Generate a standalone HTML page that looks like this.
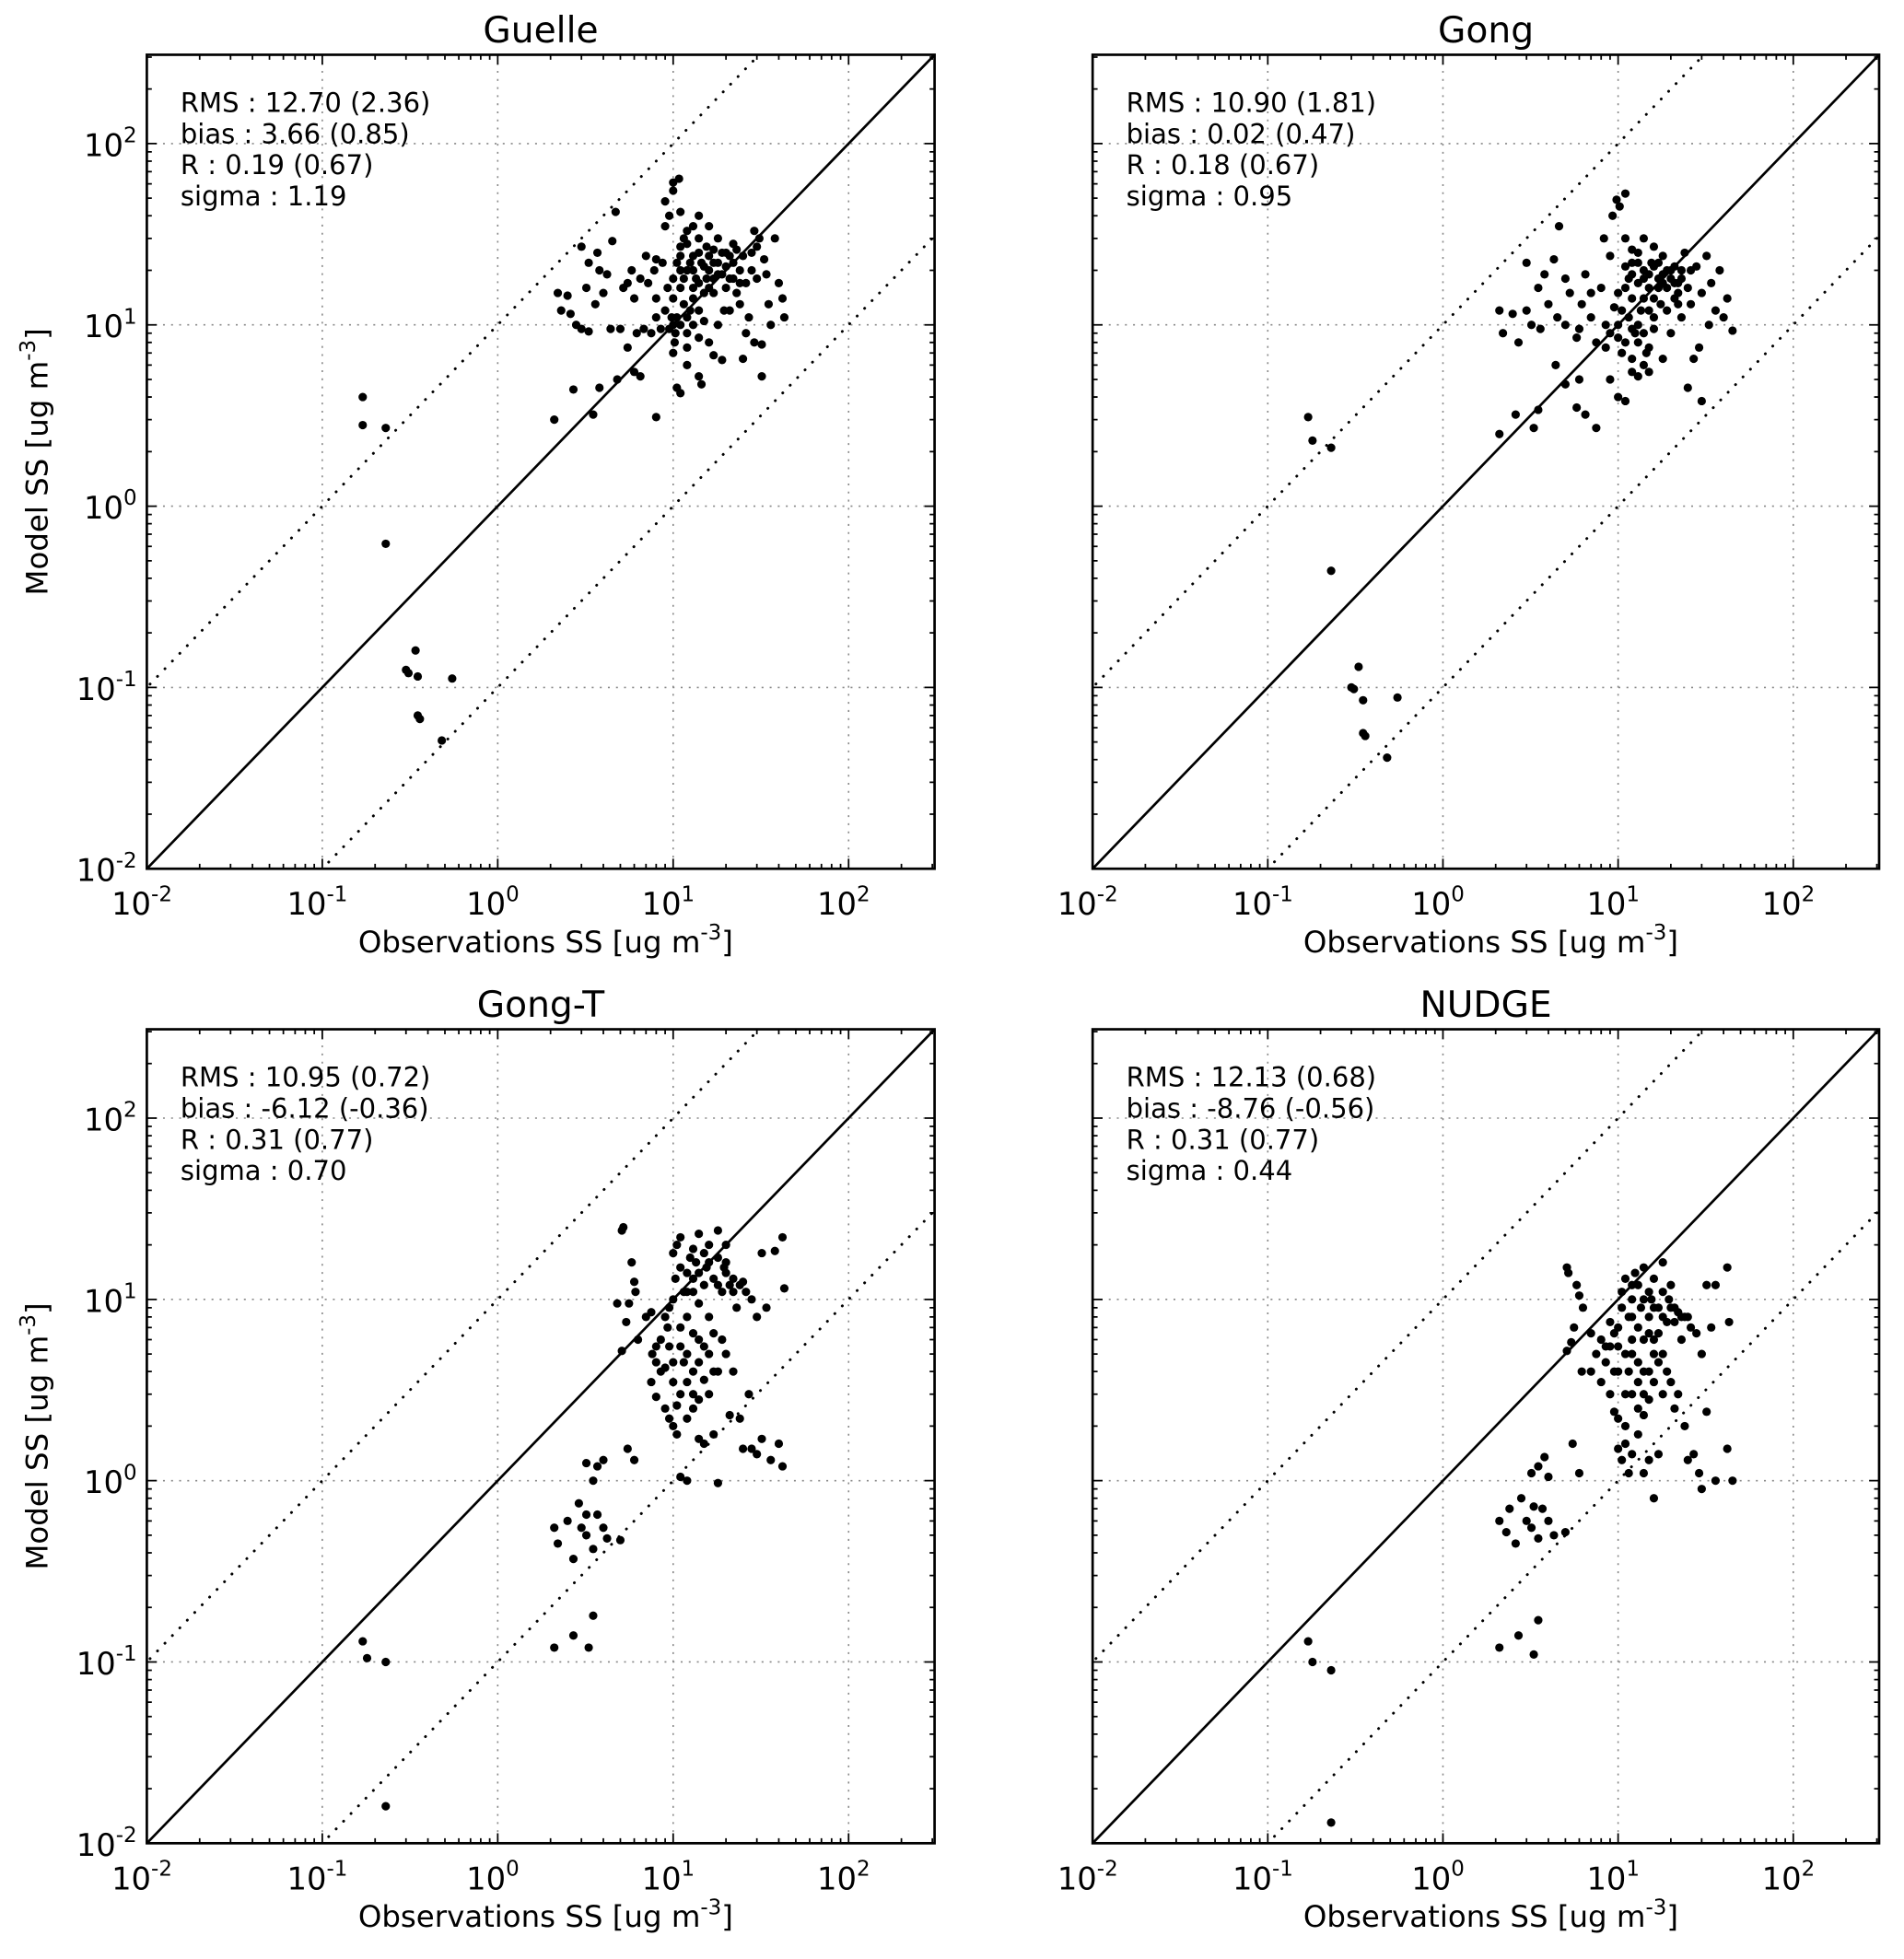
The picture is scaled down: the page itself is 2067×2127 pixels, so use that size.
<!DOCTYPE html>
<html><head><meta charset="utf-8"><style>
html,body{margin:0;padding:0;background:#fff;overflow:hidden;width:2067px;height:2127px;}
svg{display:block;}
text{font-family:"DejaVu Sans","Liberation Sans",sans-serif;fill:#000;}
</style></head><body>
<svg id="fig" width="2067" height="2127" viewBox="0 0 1530 1574" preserveAspectRatio="none" xmlns="http://www.w3.org/2000/svg"></svg>
<script>
// ---- data (observations, model) per panel ----
const titles = ["Guelle","Gong","Gong-T","NUDGE"];
const statsGuelle = ["RMS : 12.70 (2.36)","bias : 3.66 (0.85)","R : 0.19 (0.67)","sigma : 1.19"];
const statsGong = ["RMS : 10.90 (1.81)","bias : 0.02 (0.47)","R : 0.18 (0.67)","sigma : 0.95"];
const statsGongT = ["RMS : 10.95 (0.72)","bias : -6.12 (-0.36)","R : 0.31 (0.77)","sigma : 0.70"];
const statsNudge = ["RMS : 12.13 (0.68)","bias : -8.76 (-0.56)","R : 0.31 (0.77)","sigma : 0.44"];
const tickExps = [-2,-1,0,1,2];

const ptsGuelle = [[0.17,4.0],[0.17,2.8],[0.23,2.7],[0.23,0.62],[0.3,0.125],[0.31,0.12],[0.34,0.16],[0.35,0.115],[0.35,0.07],[0.36,0.067],[0.48,0.051],[0.55,0.112],
[2.1,3.0],[2.7,4.4],[3.5,3.2],[3.8,4.5],[4.8,5.0],[5.5,7.5],[6,5.5],[6.5,5.2],[8,3.1],[10.5,4.5],[11,4.2],[12,6],[14,5.2],[14.5,4.7],[19,6.4],[25,6.5],[32,5.2],[10,7],[12,7.5],[17,6.8],
[2.2,15],[2.3,12],[2.5,14.5],[2.8,10],[3,9.5],[3,27],[3.2,16],[3.3,22],[3.7,25],[3.8,20],[4,15],[4.5,29],[4.7,42],[5,9.5],[5.5,17],[5.8,20],[6,14],[6.2,9],[6.5,18],[7,24],[7.2,17],[7.5,9],[8,11],[8,23],[8.5,9.5],[9,35],[9,48],[10,55],[10,61],[10.8,64],[11,42],[11.5,30],[9.5,40],[8.7,22],[9,12],[9.5,9.5],[10,18],[10,14],[10,10],[10.5,11],[11,24],[11,16],[11.5,13],[12,28],[12,20],[12.5,12],[13,35],[13,24],[13.5,18],[14,40],[14,30],[14.5,22],[15,15],[15,10.5],[15.5,27],[16,20],[16,35],[17,26],[17,15],[18,22],[18,30],[19,19],[19.5,12],[20,25],[21,18],[22,28],[22,22],[23,15],[24,20],[25,24],[26,9],[27,11],[28,20],[29,33],[30,18],[31,30],[33,23],[34,19],[35,13],[38,30],[40,17],[42,14],[43,11],[36,10],[32,7.8],[29,8],[14,8.5],[12,9],[16,8],[18,10],[21,12],[13,16],[11,20],[17,18],[20,16],[24,13],[26,17],[28,25],[30,27],[12.5,22],[14,25],[15.5,18],[6.8,9.5],[5.2,16],[4.2,19],[3.6,13],[2.6,11.5],[3.3,9.2],[4.4,9.5],[7.8,20],[9.3,16],[8,14],[10.2,8],
[11,27],[12,33],[13,20],[14,17],[15,21],[16,24],[17,22],[18,19],[19,25],[20,21],[21,24],[22,18],[23,26],[24,17],[13,14],[14,12],[16,16],[11.5,18],[10.5,22],[9.8,11],[10.3,9],[11,10],[12,11],[13,10]];

const ptsGong = [[0.17,3.1],[0.18,2.3],[0.23,2.1],[0.23,0.44],[0.3,0.1],[0.31,0.098],[0.33,0.13],[0.35,0.085],[0.35,0.056],[0.36,0.054],[0.48,0.041],[0.55,0.088],
[2.1,2.5],[2.6,3.2],[3.3,2.7],[3.5,3.4],[4.4,6],[5,4.7],[5.8,3.5],[6,5],[6.5,3.2],[7.5,2.7],[9,5],[10,4],[11,3.8],[12,5.5],[13,5.2],[14,6],[15,5.5],[18,6.5],[25,4.5],[30,3.8],
[2.1,12],[2.2,9],[2.5,11.5],[2.7,8],[3,22],[3,12],[3.2,10],[3.5,16],[3.8,19],[4,13],[4.3,23],[4.6,35],[5,10],[5.3,15],[5.8,8.5],[6.2,13],[6.5,19],[7,11],[7.5,8],[8,16],[8.3,30],[8.5,7.5],[9,24],[9.3,40],[9.8,49],[10.2,45],[11,53],[11,30],[10,15],[10,10],[10.5,12],[11,8],[11.5,18],[12,22],[12,14],[12.5,9],[13,25],[13,17],[13.5,12],[14,30],[14,20],[14.5,7],[15,16],[15.5,22],[16,11],[16,27],[17,18],[17.5,13],[18,24],[19,16],[20,9],[20,20],[21,14],[22,17],[23,11],[24,25],[25,16],[26,13],[28,21],[29,7.5],[30,15],[32,24],[34,17],[36,12],[38,20],[40,11],[42,14],[45,9.3],[33,10],[27,6.5],[15,7.5],[12,6.5],[8.5,10],[7,15],[9.5,12.5],[11,16],[13,10],[16,14],[18,19],[21,21],[23,18],[26,20],[6,9.5],[4.5,11],[3.6,9.5],[5,18],[14,14],[17,22],[19,12],[22,13],[12,19],[15,12],[9,9],
[11,21],[12,26],[13,22],[14,18],[15,19],[16,21],[17,16],[18,17],[19,20],[20,18],[21,17],[22,15],[23,20],[14,9],[13,8],[16,9.5],[10.5,7],[11.5,11],[12,9.5],[10,8.5]];

const ptsGongT = [[0.17,0.13],[0.18,0.105],[0.23,0.1],[0.23,0.016],
[2.1,0.12],[2.7,0.14],[3.3,0.12],[3.5,0.18],[2.1,0.55],[2.2,0.45],[2.5,0.6],[2.7,0.37],[2.9,0.75],[3,0.55],[3.2,0.5],[3.2,0.65],[3.5,0.42],[3.7,0.65],[4,0.55],[4.2,0.48],[3.5,1.0],[3.7,1.2],[4,1.3],[3.2,1.25],[5,0.47],[6,1.3],[5.5,1.5],
[5.1,24],[5.2,25],[5.8,16],[6,12.5],[6.1,11],[5.6,9.5],[5.1,5.2],[5.4,7.5],[4.8,9.5],[6.3,6],[7,8],[7.5,8.5],[7.6,5],[8,4.5],[8.5,6],[9,8],[9.3,7],[8.5,4],[7.5,3.5],[8,2.9],[9,2.5],[9.5,2.2],[10,2],[10.5,1.8],[11,1.05],[12,1],[11,3],[11.5,4.5],[12,5],[13,3],[13,4],[14,2.8],[14,1.7],[15,3.6],[15,1.6],[17,1.8],[18,0.97],[21,2.3],[24,2.2],[25,1.5],[27,3],[28,1.5],[30,1.4],[32,1.7],[36,1.3],[40,1.6],[42,1.2],
[10,10],[10.3,13],[10,18],[10.5,20],[11,22],[11.5,11],[12,14],[12.5,17],[13,19],[13.5,16],[14,23],[14,9.5],[15,12],[15.5,15],[16,20],[16,8],[17,13],[18,24],[18,17],[19,11],[19.5,15],[20,20],[21,12],[22,13],[23,9],[25,12.5],[26,11],[28,10],[30,8],[32,18],[34,9],[38,18.5],[42,22],[43,11.5],[11,7],[12,8],[13,6.5],[9.5,5.5],[10,4.5],[14,6],[16,5],[18,4],[20,5],[22,4],[17,6.5],[12,11],[15,18],[20,14],[24,12],[13,13],[11,15],[9.5,9],
[10,3.5],[11,5.5],[12,3.5],[13,2.5],[14,4.5],[15,5.5],[16,3],[17,4],[19,6],[12,2.2],[10.5,2.6],[9,4.2],[8,5.5],[14,14],[16,16],[18,12],[20,16],[22,11],[13,11]];

const ptsNudge = [[0.17,0.13],[0.18,0.1],[0.23,0.09],[0.23,0.013],
[2.1,0.12],[2.7,0.14],[3.3,0.11],[3.5,0.17],[2.1,0.6],[2.3,0.52],[2.4,0.7],[2.6,0.45],[2.8,0.8],[3,0.6],[3.2,0.55],[3.3,0.72],[3.5,0.48],[3.7,0.7],[4,0.6],[4.3,0.5],[3.5,1.2],[3.8,1.35],[4,1.05],[3.2,1.1],[5,0.52],[6,1.1],[5.5,1.6],
[5.1,15],[5.2,14],[5.8,12],[6,10.5],[6.3,9],[5.6,7],[5.1,5.2],[5.4,5.8],[6.2,4],[7,4],[7.5,5],[8,3.5],[8.5,4.5],[9,5.5],[9.5,4],[9,3],[9.5,2.4],[10,1.5],[10.5,1.3],[11,1.6],[12,1.4],[11,3],[11.5,4],[12,5],[13,2.5],[13,3.5],[14,2.3],[14,1.1],[15,2.8],[15,1.3],[17,1.4],[16,0.8],[11.5,1.1],[21,2.5],[24,2],[25,1.3],[27,1.4],[29,1.1],[30,0.9],[32,2.4],[36,1],[42,1.5],[45,1],
[10,7],[10.5,9],[10.5,11],[11,13],[11.5,8],[12,10],[12.5,14],[13,12],[13.5,9],[14,15],[14,6],[15,8],[15.5,10],[16,13],[16,6],[17,9],[18,16],[18,11],[19,7.5],[19.5,10],[20,12],[21,7.5],[22,8.5],[23,6],[25,8],[26,7],[28,6.5],[30,5],[32,12],[34,7],[36,12],[42,15],[43,7.5],[11,5],[12,6],[13,4.5],[10,4],[10,5.5],[14,4],[16,3.5],[18,3],[20,3.5],[22,3],[17,4.5],[9,7.5],[8,6],[7,6.5],[12,8],[15,11],[20,9],[24,8],[13,7],
[10,2.2],[11,2],[12,3],[13,1.8],[14,3],[15,4],[16,5],[17,6.5],[18,5],[19,4],[9.5,6.5],[8.5,5.5],[12,12],[14,10],[16,9],[18,8],[21,9],[23,8],[15,6.5]];

// ---- layout ----
const NS = "http://www.w3.org/2000/svg";
const svg = document.getElementById('fig');
const LOGMIN = -2, LOGMAX = 2.49;
const panels = [
  {x0:118,y0:44,x1:751,y1:698,title:titles[0],stats:statsGuelle,pts:ptsGuelle,left:true,key:'guelle'},
  {x0:878,y0:44,x1:1510,y1:698,title:titles[1],stats:statsGong,pts:ptsGong,left:false,key:'gong'},
  {x0:118,y0:827,x1:751,y1:1481,title:titles[2],stats:statsGongT,pts:ptsGongT,left:true,key:'gong-t'},
  {x0:878,y0:827,x1:1510,y1:1481,title:titles[3],stats:statsNudge,pts:ptsNudge,left:false,key:'nudge'}
];
function mk(tag, attrs, parent){const e=document.createElementNS(NS,tag);for(const k in attrs)e.setAttribute(k,attrs[k]);(parent||svg).appendChild(e);return e;}

panels.forEach((p,pi)=>{
  const g = mk('g',{});
  
  
  const sx = v => p.x0 + (Math.log10(v)-LOGMIN)/(LOGMAX-LOGMIN)*(p.x1-p.x0);
  const sy = v => p.y1 - (Math.log10(v)-LOGMIN)/(LOGMAX-LOGMIN)*(p.y1-p.y0);
  const cid = 'clip'+pi;
  const cp = mk('clipPath',{id:cid},g);
  mk('rect',{x:p.x0,y:p.y0,width:p.x1-p.x0,height:p.y1-p.y0},cp);
  tickExps.forEach(e=>{
    const v = Math.pow(10,e);
    const gx = mk('line',{x1:sx(v),x2:sx(v),y1:p.y0,y2:p.y1,stroke:'#888','stroke-width':1.2,'stroke-dasharray':'1.5,5'},g);
    
    
    const gy = mk('line',{x1:p.x0,x2:p.x1,y1:sy(v),y2:sy(v),stroke:'#888','stroke-width':1.2,'stroke-dasharray':'1.5,5'},g);
    
    
  });
  const cg = mk('g',{'clip-path':'url(#'+cid+')'},g);
  const lo=0.001, hi=1000;
  const l1 = mk('line',{x1:sx(lo),y1:sy(lo),x2:sx(hi),y2:sy(hi),stroke:'#000','stroke-width':2},cg);
  
  
  const l2 = mk('line',{x1:sx(lo),y1:sy(lo*10),x2:sx(hi),y2:sy(hi*10),stroke:'#000','stroke-width':2.2,'stroke-dasharray':'0.1,8.5','stroke-linecap':'round'},cg);
  
  
  const l3 = mk('line',{x1:sx(lo),y1:sy(lo/10),x2:sx(hi),y2:sy(hi/10),stroke:'#000','stroke-width':2.2,'stroke-dasharray':'0.1,8.5','stroke-linecap':'round'},cg);
  
  
  p.pts.forEach(d=>{
    const c = mk('circle',{cx:sx(d[0]),cy:sy(d[1]),r:3.4,fill:'#000'},cg);
    
    
  });
  const fr = mk('rect',{x:p.x0,y:p.y0,width:p.x1-p.x0,height:p.y1-p.y0,fill:'none',stroke:'#000','stroke-width':2},g);
  
  
  let tp='';
  for(let e=-2;e<=2;e++){
    for(let m=1;m<=9;m++){
      const v=m*Math.pow(10,e);
      if(Math.log10(v)>LOGMAX) break;
      const L = m===1?8:4;
      const X=sx(v), Y=sy(v);
      tp+=`M${X},${p.y1}v${-L}M${X},${p.y0}v${L}M${p.x0},${Y}h${L}M${p.x1},${Y}h${-L}`;
    }
  }
  const tk = mk('path',{d:tp,stroke:'#000','stroke-width':1.3,fill:'none'},g);
  
  
  tickExps.forEach(e=>{
    const v=Math.pow(10,e);
    const t = mk('text',{x:sx(v)-4,y:p.y1+37,'font-size':25,'text-anchor':'middle'},g);
    
    
    t.innerHTML = `10<tspan dy="-11" font-size="17">${e}</tspan>`;
    if(p.left){
      const ty = mk('text',{x:p.x0-8,y:sy(v)+10,'font-size':25,'text-anchor':'end'},g);
      
      
      ty.innerHTML = `10<tspan dy="-11" font-size="17">${e}</tspan>`;
    }
  });
  const tt = mk('text',{x:(p.x0+p.x1)/2,y:p.y0-10,'font-size':29,'text-anchor':'middle'},g);
  
  
  tt.textContent = p.title;
  p.stats.forEach((s,i)=>{
    const st = mk('text',{x:p.x0+27,y:p.y0+46+i*25,'font-size':21.5},g);
    
    
    st.textContent = s;
  });
  const xl = mk('text',{x:(p.x0+p.x1)/2+4,y:p.y1+67,'font-size':24,'text-anchor':'middle'},g);
  
  
  xl.innerHTML = 'Observations SS [ug m<tspan dy="-10" font-size="17">-3</tspan><tspan dy="10">]</tspan>';
  if(p.left){
    const cy=(p.y0+p.y1)/2;
    const yl = mk('text',{x:38,y:cy,'font-size':24,'text-anchor':'middle',transform:`rotate(-90 38 ${cy})`},g);
    
    
    yl.innerHTML = 'Model SS [ug m<tspan dy="-10" font-size="17">-3</tspan><tspan dy="10">]</tspan>';
  }
});
</script>
</body></html>
